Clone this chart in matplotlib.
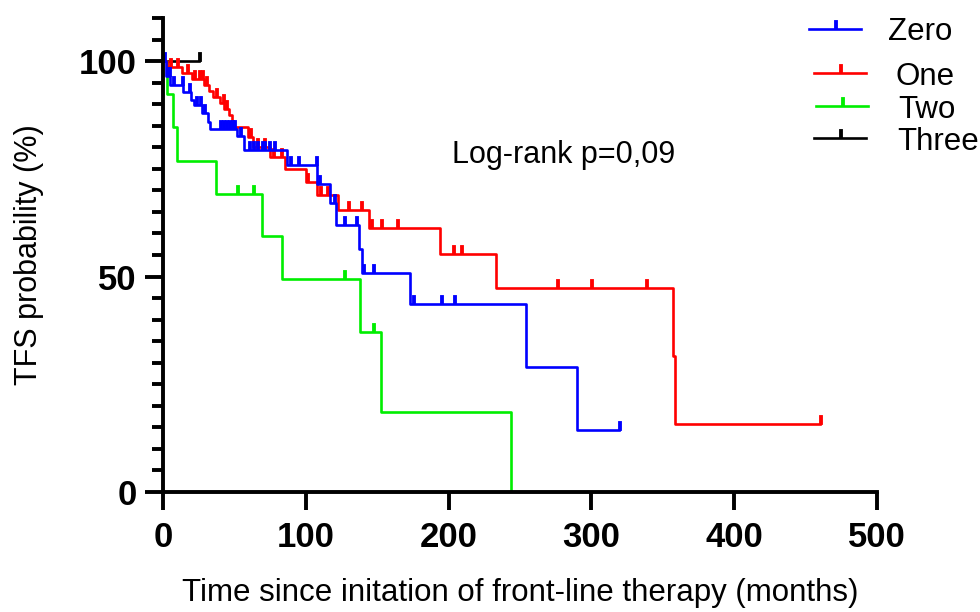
import numpy as np
import matplotlib
matplotlib.use("Agg")
from matplotlib import pyplot as plt
from matplotlib.path import Path
from matplotlib.lines import Line2D
from matplotlib.ticker import FixedLocator

plt.rcParams['font.family'] = ['Liberation Sans', 'DejaVu Sans']

# Kaplan-Meier steps: event times (months), survival after each event (%), censored times
zero_t = [0, 2, 5, 14, 19.6, 22, 27, 31.5, 33, 52, 57, 87, 108, 117, 121, 137, 139.4, 173, 254, 290]
zero_s = [100, 96.5, 94.4, 92.8, 91.0, 89.8, 87.9, 85.8, 84.2, 82.6, 79.35, 75.9, 71.5, 67.1, 61.9,
          56.5, 50.8, 43.6, 29.0, 14.4]
zero_cens = [1, 3, 4, 7, 13, 18, 23, 26, 29, 40, 42, 44, 46, 48, 50, 54, 60, 63, 66, 69, 71, 74, 78,
             89, 94.5, 107, 109, 120, 127, 135, 140, 147, 175, 195, 204, 319]

one_t = [0, 3, 13, 20, 29, 32, 35, 40, 43, 46, 48, 49, 59.5, 63, 75, 85.4, 100, 108, 122.5, 144,
         194, 233, 357, 358.5]
one_s = [100, 98.6, 97.2, 95.8, 94.4, 93.0, 91.6, 90.2, 88.8, 87.4, 86.0, 84.7, 82.4, 80.0, 77.7,
         75.0, 71.9, 68.9, 65.4, 61.3, 55.2, 47.3, 31.6, 15.8]
one_cens = [5, 10, 17, 22, 25, 27, 30, 37, 42, 44, 61, 66, 71, 77, 82.6, 101, 110, 115, 129.5, 138.7,
            146, 152.7, 164, 203, 209, 276, 300, 338, 460]

two_t = [0, 3, 7, 10, 37, 69, 83, 138, 153, 244]
two_s = [100, 92.3, 84.6, 76.9, 69.2, 59.3, 49.4, 37.1, 18.5, 0]
two_cens = [52, 63, 127, 147]

three_t = [0]
three_s = [100]
three_cens = [25]

groups = ["Zero", "One", "Two", "Three"]
colors = ["#0000ff", "#ff0000", "#00ee00", "#000000"]

# censor tick: a small filled bar rising from the curve
tick = Path([(-0.16, 0), (0.16, 0), (0.16, 1), (-0.16, 1), (-0.16, 0)],
            [Path.MOVETO, Path.LINETO, Path.LINETO, Path.LINETO, Path.CLOSEPOLY])
TICK_MS = 13.5

fig = plt.figure(figsize=(9.8, 6.12), dpi=100)
ax = fig.add_axes([163 / 980, 120 / 612, 714 / 980, 474 / 612])


def km_curve(t, s, cens, color, z):
    t = np.asarray(t, float)
    s = np.asarray(s, float)
    end = max(t[-1], max(cens))
    ax.step(np.append(t, end), np.append(s, s[-1]), where='post', color=color, lw=1.9, zorder=z)
    cens = np.asarray(cens, float)
    cy = s[np.searchsorted(t, cens, side='right') - 1]
    ax.plot(cens, cy, ls='none', marker=tick, ms=TICK_MS, mew=0.6, mec=color, mfc=color, zorder=z)


km_curve(three_t, three_s, three_cens, colors[3], 2)
km_curve(two_t, two_s, two_cens, colors[2], 2.1)
km_curve(one_t, one_s, one_cens, colors[1], 2.2)
km_curve(zero_t, zero_s, zero_cens, colors[0], 2.3)

ax.set_xlim(0, 500)
ax.set_ylim(0, 110)
ax.set_xticks([0, 100, 200, 300, 400, 500])
ax.set_yticks([0, 50, 100])
ax.yaxis.set_minor_locator(FixedLocator(np.arange(0, 111, 5)))

for side in ("top", "right"):
    ax.spines[side].set_visible(False)
for side in ("left", "bottom"):
    ax.spines[side].set_linewidth(2.8)

ax.tick_params(which='major', length=13, width=2.8, labelsize=25)
ax.tick_params(which='minor', length=8, width=2.8)
ax.tick_params(axis='x', pad=8)
ax.tick_params(axis='y', pad=6)
for lab in ax.get_xticklabels() + ax.get_yticklabels():
    lab.set_fontweight('bold')

ax.set_ylabel("TFS probability (%)", fontsize=22)
ax.yaxis.set_label_coords(-0.167, 0.5)
ax.set_xlabel("Time since initation of front-line therapy (months)", fontsize=22.5)
ax.xaxis.set_label_coords(0.5, -0.181)

ax.text(202.4, 76.3, "Log-rank p=0,09", fontsize=22, ha='left', va='baseline')

# legend drawn by hand in figure pixels
leg_y = [29, 73, 106, 138]
leg_x0 = [809, 814, 816, 814]
leg_txt_x = [888, 895, 898, 897]
leg_base = [40, 85, 118, 150]
for name, col, ly, lx, tx, tb in zip(groups, colors, leg_y, leg_x0, leg_txt_x, leg_base):
    fy = 1 - ly / 612
    fig.add_artist(Line2D([lx / 980, (lx + 52) / 980], [fy, fy], transform=fig.transFigure,
                          color=col, lw=1.9))
    fig.add_artist(Line2D([(lx + 26) / 980], [fy], transform=fig.transFigure, ls='none',
                          marker=tick, ms=TICK_MS, mew=0.6, mec=col, mfc=col))
    fig.text(tx / 980, 1 - tb / 612, name, fontsize=22.5, ha='left', va='baseline')

fig.savefig("out.png", dpi=100)
